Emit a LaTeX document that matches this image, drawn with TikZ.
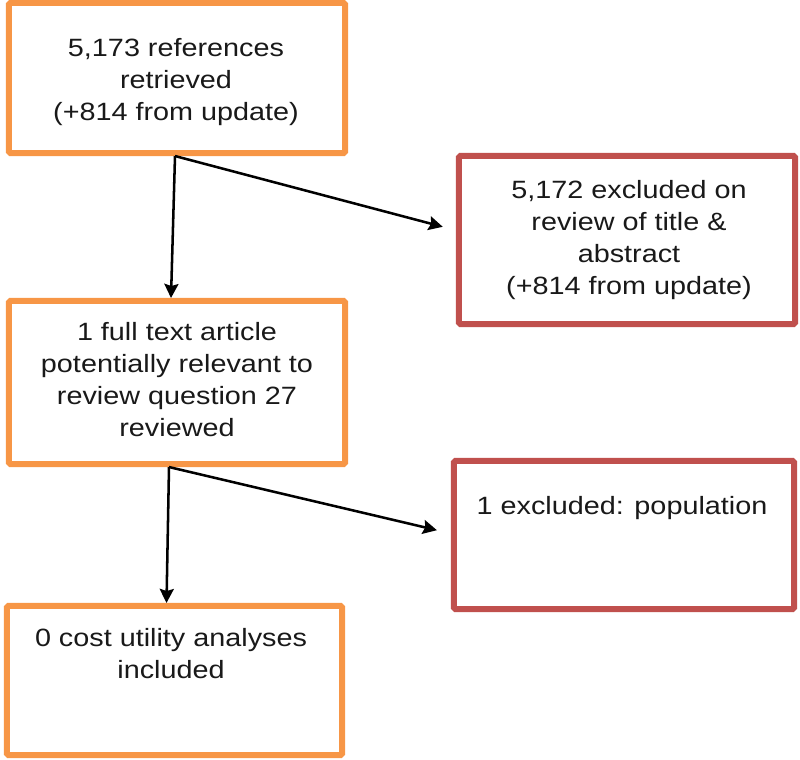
\documentclass[tikz,border=0pt]{standalone}
\usepackage{fontspec}
\setmainfont[FakeStretch=1.15]{Liberation Sans}
\usepackage{xcolor}
\usepackage{tikz}
\usetikzlibrary{arrows.meta}
\definecolor{boxorange}{HTML}{F79646}
\definecolor{boxred}{HTML}{C0504D}
\tikzset{
  stagebox/.style={draw=boxorange,line width=0.15cm,rounded corners=1pt,inner sep=0pt},
  dropbox/.style={draw=boxred,line width=0.15cm,rounded corners=1pt,inner sep=0pt},
  boxtext/.style={anchor=north,align=center,inner sep=0pt,text=black!90,
    font=\fontsize{17.8pt}{22.8pt}\selectfont},
  flow/.style={-{Stealth[length=10pt,width=10pt,inset=1.5pt]},line width=1.8pt}
}

\begin{document}
\begin{tikzpicture}[x=0.025cm,y=-0.025cm]
\useasboundingbox (0,0) rectangle (800,759);
% boxes
\node[stagebox,minimum width=8.4cm,minimum height=3.75cm](retrieved) at (177,78){};
\node[dropbox,minimum width=8.4cm,minimum height=4.2cm](titleout) at (627,240){};
\node[stagebox,minimum width=8.4cm,minimum height=4.075cm](fulltext) at (177,382.5){};
\node[dropbox,minimum width=8.5cm,minimum height=3.7cm](popout) at (624,535){};
\node[stagebox,minimum width=8.375cm,minimum height=3.725cm](included) at (174.5,680.5){};
% texts
\node[boxtext](retrievedtxt) at (176,38){5,173 references\\retrieved\\(+814 from update)};
\node[boxtext](titleouttxt) at (629,180){5,172 excluded on\\review of title \&\\abstract\\(+814 from update)};
\node[boxtext](fulltexttxt) at (177,322){1 full text article\\potentially relevant to\\review question 27\\reviewed};
\node[boxtext](popouttxt) at (622,496){1 excluded: population};
\node[boxtext](includedtxt) at (171,628){0 cost utility analyses\\included};
% arrows
\coordinate(hit1) at ([shift={(-0.33cm,0.33cm)}]titleout.west);
\coordinate(hit2) at ([shift={(-0.35cm,0.12cm)}]popout.west);
\draw[flow]([xshift=-0.05cm]retrieved.south)--([xshift=-0.15cm]fulltext.north);
\draw[flow]([xshift=-0.05cm]retrieved.south)--(hit1);
\draw[flow]([xshift=-0.2cm]fulltext.south)--([xshift=-0.2cm]included.north);
\draw[flow]([xshift=-0.2cm]fulltext.south)--(hit2);
\end{tikzpicture}
\end{document}
